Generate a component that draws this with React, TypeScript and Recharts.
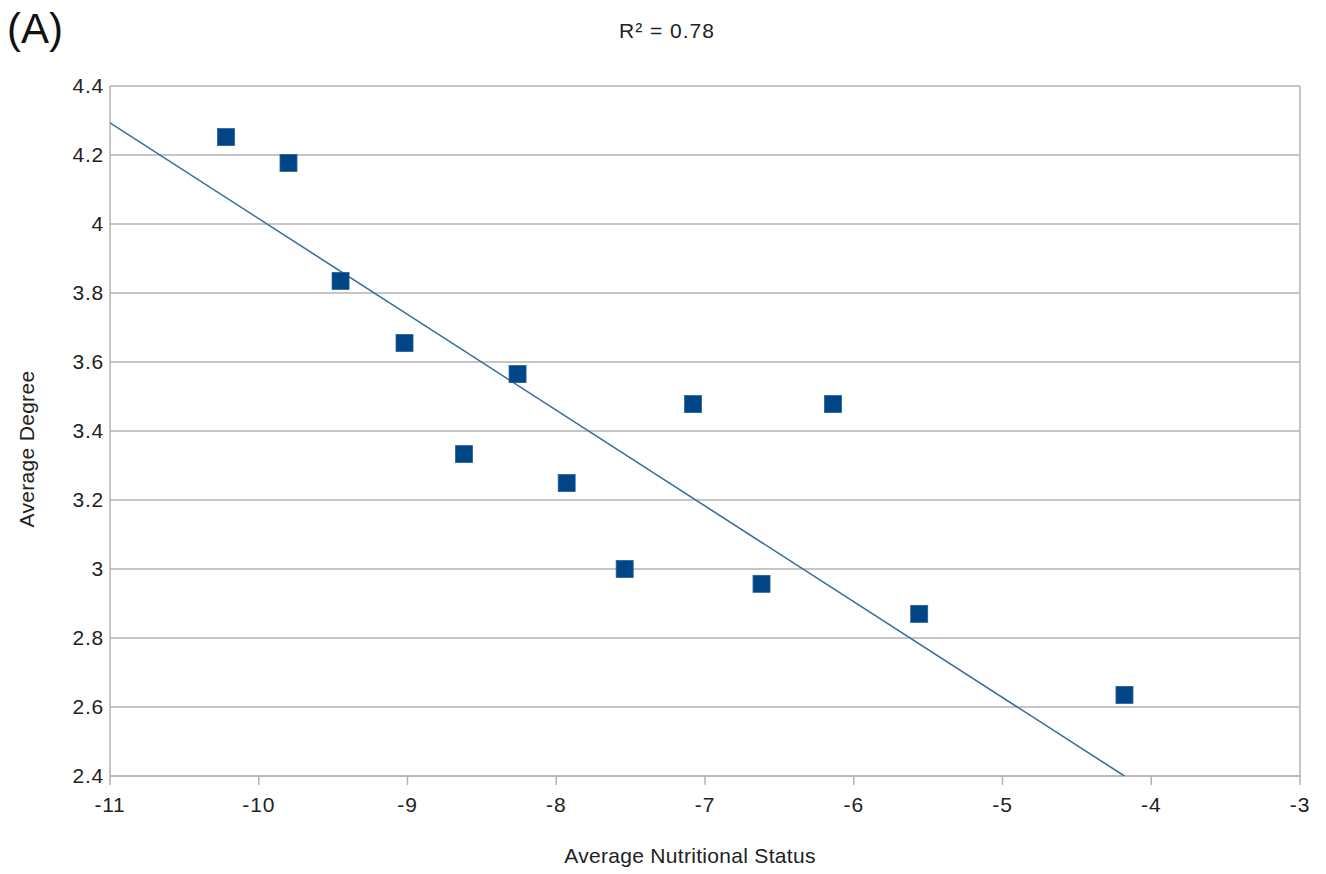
import React from 'react';
import { ScatterChart, Scatter, XAxis, YAxis, CartesianGrid, ReferenceLine } from 'recharts';

const pointX = [-10.22, -9.8, -9.45, -9.02, -8.62, -8.26, -7.93, -7.54, -7.08, -6.62, -6.14, -5.56, -4.18];
const pointY = [4.252, 4.177, 3.835, 3.655, 3.333, 3.565, 3.249, 3.0, 3.478, 2.957, 3.478, 2.87, 2.635];
const trendX = [-11, -4.18];
const trendY = [4.293, 2.4];
const xTicks = [-11, -10, -9, -8, -7, -6, -5, -4, -3];
const yTicks = [2.4, 2.6, 2.8, 3, 3.2, 3.4, 3.6, 3.8, 4, 4.2, 4.4];

const points = pointX.map((x, i) => ({ x, y: pointY[i] }));
const trend = trendX.map((x, i) => ({ x, y: trendY[i] }));

const FONT = '"Liberation Sans", Arial, sans-serif';
const GRID = '#b3b3b3';
const TEXT = '#222';

const Square = (props: any) => {
  const { cx, cy } = props;
  if (cx == null || cy == null) return null;
  const s = 17;
  return <rect x={cx - s / 2} y={cy - s / 2} width={s} height={s} fill="#004586" stroke="#2a5f96" strokeWidth={0.8} />;
};

const NoShape = () => null;

export default function App() {
  return (
    <div style={{ position: 'absolute', left: 0, top: 0, width: 1326, height: 874, background: '#fff', fontFamily: FONT }}>
      <ScatterChart width={1326} height={874} margin={{ top: 86, right: 26, bottom: 68, left: 0 }}>
        <CartesianGrid vertical={false} stroke={GRID} strokeWidth={1.5} />
        <XAxis
          type="number"
          dataKey="x"
          domain={[-11, -3]}
          ticks={xTicks}
          allowDataOverflow
          stroke={GRID}
          strokeWidth={1.5}
          tickSize={9}
          tickMargin={12}
          tick={{ fill: TEXT, fontSize: 21, fontFamily: FONT, letterSpacing: 0.8 }}
          label={{ value: 'Average Nutritional Status', position: 'bottom', offset: 42, dx: -15, fill: TEXT, fontSize: 21, fontFamily: FONT, letterSpacing: 0.3 }}
        />
        <YAxis
          type="number"
          dataKey="y"
          domain={[2.4, 4.4]}
          ticks={yTicks}
          allowDataOverflow
          width={110}
          stroke={GRID}
          strokeWidth={1.5}
          tickLine={false}
          tickSize={0}
          tickMargin={6}
          tickFormatter={(v: number) => String(Number(v.toFixed(1)))}
          tick={{ fill: TEXT, fontSize: 21, fontFamily: FONT, letterSpacing: 0.8 }}
        />
        <ReferenceLine x={-3} stroke={GRID} strokeWidth={1.5} />
        <Scatter data={trend} line={{ stroke: '#3a6ea5', strokeWidth: 1.6 }} shape={NoShape} isAnimationActive={false} />
        <Scatter data={points} shape={Square} isAnimationActive={false} />
        <text x={26} y={449} transform="rotate(-90 26 449)" textAnchor="middle" dominantBaseline="central" fontSize={21} fontFamily={FONT} fill={TEXT} letterSpacing={0.3}>Average Degree</text>
        <text x={7} y={43} fontSize={42} fontFamily={FONT} fill="#111">(A)</text>
        <text x={667} y={38} textAnchor="middle" fontSize={21} fontFamily={FONT} fill={TEXT} letterSpacing={1}>R² = 0.78</text>
      </ScatterChart>
    </div>
  );
}
